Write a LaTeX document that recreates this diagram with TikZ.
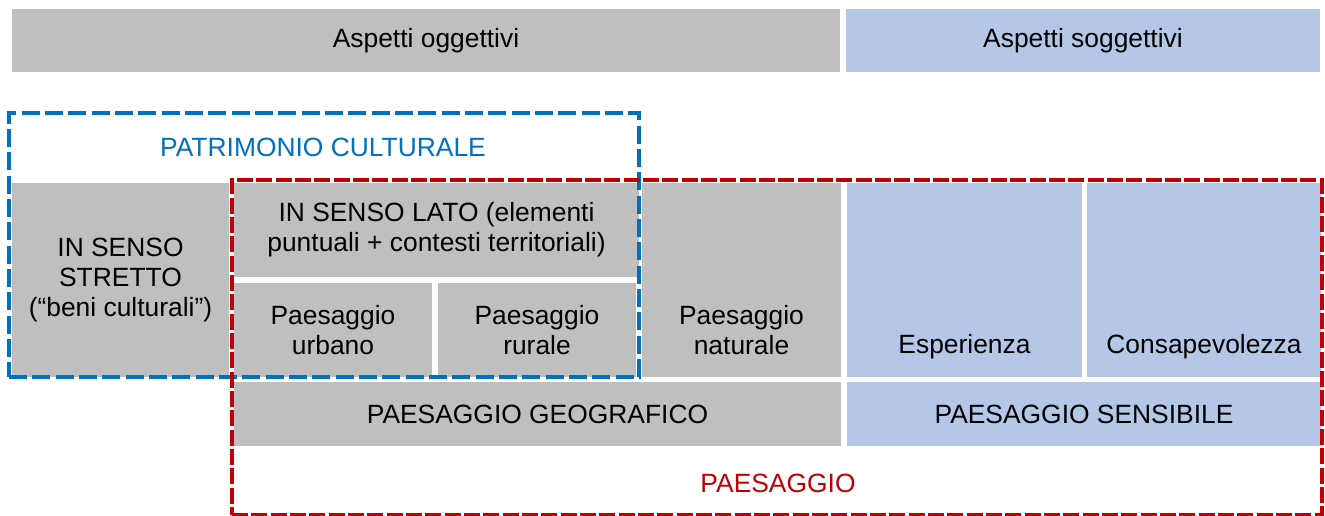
\documentclass[tikz,border=0pt]{standalone}
\usepackage{fontspec}
\setmainfont{Liberation Sans}
\definecolor{cgray}{HTML}{BFBFBF}
\definecolor{cblue}{HTML}{B4C7E7}
\definecolor{tblue}{HTML}{0070C0}
\definecolor{tred}{HTML}{C00000}
\begin{document}
\begin{tikzpicture}[x=0.75pt,y=-0.75pt,
  txt/.style={inner sep=0pt, align=center, font=\fontsize{19.8}{22.5}\selectfont},
  graycell/.style={txt, fill=cgray},
  bluecell/.style={txt, fill=cblue},
  dim/.style 2 args={minimum width=#1*0.75pt, minimum height=#2*0.75pt},
  patrbox/.style={draw=tblue, line width=3pt, dash pattern=on 13.5pt off 4pt, inner sep=0pt},
  paesbox/.style={draw=tred, line width=3pt, dash pattern=on 12pt off 2.5pt, inner sep=0pt},
]
\useasboundingbox (0,0) rectangle (1325,515);
% top bars
\node[graycell, dim={828}{63}] (ao) at (426,40.5) {Aspetti oggettivi};
\node[bluecell, dim={474}{63}] (as) at (1083,40.5) {Aspetti soggettivi};
% cells
\node[graycell, dim={217}{194}] (stretto) at (120.5,280) {IN SENSO\\STRETTO\\(“beni culturali”)};
\node[graycell, dim={405}{94}] (lato) at (436.5,230) {IN SENSO LATO (elementi\\puntuali + contesti territoriali)};
\node[graycell, dim={198}{94}] (urbano) at (333,330) {Paesaggio\\urbano};
\node[graycell, dim={198}{94}] (rurale) at (537,330) {Paesaggio\\rurale};
\node[graycell, dim={199}{194}] (naturale) at (741.5,280) {};
\node[txt] (naturalet) at (741.5,330) {Paesaggio\\naturale};
\node[bluecell, dim={235}{194}] (esper) at (964.5,280) {};
\node[txt] (espert) at (964.5,347) {Esperienza};
\node[bluecell, dim={234}{194}] (consap) at (1204,280) {};
\node[txt] (consapt) at (1204,347) {Consapevolezza};
\node[graycell, dim={607}{64}] (geo) at (537.5,414) {PAESAGGIO GEOGRAFICO};
\node[bluecell, dim={474}{64}] (sens) at (1084,414) {PAESAGGIO SENSIBILE};
% dashed frames
\node[patrbox, dim={630}{264}] (patr) at (324,245) {};
\node[txt, text=tblue] (patrt) at (323,147) {PATRIMONIO CULTURALE};
\node[paesbox, dim={1090}{335}] (paes) at (777,347.5) {};
\node[txt, text=tred] (paest) at (778,483) {PAESAGGIO};
\end{tikzpicture}
\end{document}
